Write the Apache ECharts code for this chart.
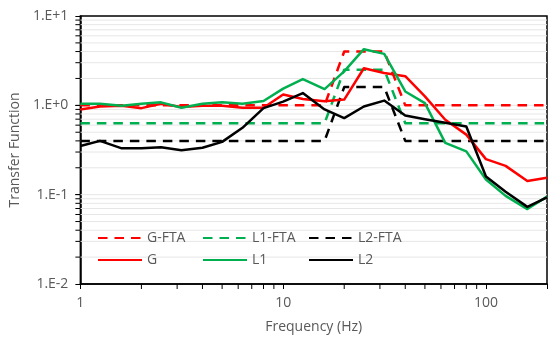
<!DOCTYPE html>
<html>
<head>
<meta charset="utf-8">
<script src="https://cdn.jsdelivr.net/npm/echarts@6/dist/echarts.min.js"></script>
<style>
  html, body { margin: 0; padding: 0; background: #fff; }
  #chart { width: 550px; height: 339px; }
</style>
</head>
<body>
<div id="chart"></div>
<script>
// 1/3-octave band centre frequencies (Hz)
const freqs = [1, 1.25, 1.6, 2, 2.5, 3.15, 4, 5, 6.3, 8, 10, 12.5, 16, 20, 25, 31.5, 40, 50, 63, 80, 100, 125, 160, 200];

// FTA envelopes
const gFta  = [1, 1, 1, 1, 1, 1, 1, 1, 1, 1, 1, 1, 1, 4, 4, 4, 1, 1, 1, 1, 1, 1, 1, 1];
const l1Fta = [0.63, 0.63, 0.63, 0.63, 0.63, 0.63, 0.63, 0.63, 0.63, 0.63, 0.63, 0.63, 0.63, 2.5, 2.5, 2.5, 0.63, 0.63, 0.63, 0.63, 0.63, 0.63, 0.63, 0.63];
const l2Fta = [0.4, 0.4, 0.4, 0.4, 0.4, 0.4, 0.4, 0.4, 0.4, 0.4, 0.4, 0.4, 0.4, 1.6, 1.6, 1.6, 0.4, 0.4, 0.4, 0.4, 0.4, 0.4, 0.4, 0.4];

// measured transfer functions
const gVals  = [0.9, 0.97, 0.99, 0.93, 1.04, 0.96, 0.99, 0.99, 0.94, 0.94, 1.32, 1.18, 1.11, 1.16, 2.6, 2.3, 2.12, 1.26, 0.69, 0.47, 0.25, 0.21, 0.142, 0.155];
const l1Vals = [1.04, 1.04, 0.99, 1.04, 1.08, 0.94, 1.04, 1.08, 1.04, 1.12, 1.54, 1.97, 1.52, 2.4, 4.25, 3.77, 1.43, 1.06, 0.38, 0.305, 0.148, 0.097, 0.069, 0.095];
const l2Vals = [0.35, 0.4, 0.33, 0.33, 0.34, 0.315, 0.335, 0.39, 0.56, 0.93, 1.1, 1.37, 0.9, 0.72, 0.97, 1.13, 0.77, 0.7, 0.64, 0.58, 0.16, 0.108, 0.073, 0.093];

// axis range and gridline / minor tick positions
const xRange = [1, 200];
const yRange = [0.01, 10];
const yGridVals = [0.02, 0.03, 0.04, 0.05, 0.06, 0.07, 0.08, 0.09, 0.1, 0.2, 0.3, 0.4, 0.5, 0.6, 0.7, 0.8, 0.9, 1, 2, 3, 4, 5, 6, 7, 8, 9];
const xMinorVals = [2, 3, 4, 5, 6, 7, 8, 9, 20, 30, 40, 50, 60, 70, 80, 90];

const legendRow1 = ['G-FTA', 'L1-FTA', 'L2-FTA'];
const legendRow2 = ['G', 'L1', 'L2'];

const RED = '#ff0000';
const GREEN = '#00b050';
const BLACK = '#000000';
const TEXT = '#595959';
const FONT = 'Open Sans';

const chart = echarts.init(document.getElementById('chart'), null, {renderer: 'canvas'});

function pairs(vals) {
  return freqs.map((f, i) => [f, vals[i]]);
}

function isPow10(v) {
  const e = Math.log10(v);
  return Math.abs(e - Math.round(e)) < 1e-6;
}

function lineSeries(name, vals, color, dashed) {
  return {
    name: name,
    type: 'line',
    data: pairs(vals),
    symbol: 'none',
    z: 3,
    lineStyle: {
      color: color,
      width: 2.5,
      type: dashed ? [9.5, 7] : 'solid',
      join: 'round'
    },
    itemStyle: {color: color}
  };
}

function legendItem(name, left, top) {
  return {
    data: [name],
    left: left,
    top: top,
    padding: 0,
    itemWidth: 44,
    itemHeight: 14,
    itemGap: 0,
    selectedMode: false,
    itemStyle: {opacity: 0},
    textStyle: {color: TEXT, fontSize: 14, fontFamily: FONT, lineHeight: 14}
  };
}

const legendLefts = [97, 202, 308];
const legends = [];
legendRow1.forEach((n, i) => legends.push(legendItem(n, legendLefts[i], 231)));
legendRow2.forEach((n, i) => legends.push(legendItem(n, legendLefts[i], 253)));

const option = {
  backgroundColor: '#fff',
  animation: false,
  textStyle: {fontFamily: FONT},
  legend: legends,
  grid: {
    left: 78,
    top: 16,
    width: 475,
    height: 269,
    show: true,
    borderColor: '#000',
    borderWidth: 1.5,
    backgroundColor: 'transparent'
  },
  xAxis: {
    type: 'log',
    logBase: 10,
    min: xRange[0],
    max: xRange[1],
    name: 'Frequency (Hz)',
    nameLocation: 'middle',
    nameGap: 36,
    nameTextStyle: {color: TEXT, fontSize: 14, fontFamily: FONT},
    axisLine: {lineStyle: {color: '#000', width: 1.5}},
    axisTick: {show: true, length: 5, lineStyle: {color: '#000', width: 1}},
    splitLine: {show: false},
    axisLabel: {
      color: TEXT,
      fontSize: 14,
      fontFamily: FONT,
      margin: 12,
      formatter: v => isPow10(v) ? String(Math.round(v)) : ''
    }
  },
  yAxis: {
    type: 'log',
    logBase: 10,
    min: yRange[0],
    max: yRange[1],
    name: 'Transfer Function',
    nameLocation: 'middle',
    nameGap: 55,
    nameTextStyle: {color: TEXT, fontSize: 14, fontFamily: FONT},
    axisLine: {show: true, lineStyle: {color: '#000', width: 1.5}},
    axisTick: {show: true, length: 5, lineStyle: {color: '#000', width: 1}},
    splitLine: {show: false},
    axisLabel: {
      color: TEXT,
      fontSize: 14,
      fontFamily: FONT,
      margin: 12,
      formatter: function (v) {
        const e = Math.round(Math.log10(v));
        return '1.E' + (e >= 0 ? '+' : '-') + Math.abs(e);
      }
    }
  },
  series: [
    // horizontal gridlines + minor ticks on y axis
    {
      type: 'custom',
      silent: true,
      z: 1,
      data: yGridVals.map(v => [xRange[0], v]),
      renderItem: function (params, api) {
        const v = api.value(1);
        const a = api.coord([xRange[0], v]);
        const b = api.coord([xRange[1], v]);
        return {
          type: 'group',
          children: [{
            type: 'line',
            shape: {x1: a[0], y1: a[1], x2: b[0], y2: b[1]},
            style: {stroke: '#e6e6e6', lineWidth: 1}
          }, {
            type: 'line',
            shape: {x1: a[0] - 5, y1: a[1], x2: a[0], y2: a[1]},
            style: {stroke: '#000', lineWidth: 1}
          }]
        };
      },
      clip: false
    },
    // minor ticks on x axis
    {
      type: 'custom',
      silent: true,
      z: 1,
      data: xMinorVals.map(v => [v, yRange[0]]),
      renderItem: function (params, api) {
        const p = api.coord([api.value(0), yRange[0]]);
        return {
          type: 'line',
          shape: {x1: p[0], y1: p[1], x2: p[0], y2: p[1] + 5},
          style: {stroke: '#000', lineWidth: 1}
        };
      },
      clip: false
    },
    lineSeries('G-FTA', gFta, RED, true),
    lineSeries('L1-FTA', l1Fta, GREEN, true),
    lineSeries('L2-FTA', l2Fta, BLACK, true),
    lineSeries('G', gVals, RED, false),
    lineSeries('L1', l1Vals, GREEN, false),
    lineSeries('L2', l2Vals, BLACK, false)
  ]
};

chart.setOption(option);

window.addEventListener('resize', function () {
  chart.resize();
});
</script>
</body>
</html>
